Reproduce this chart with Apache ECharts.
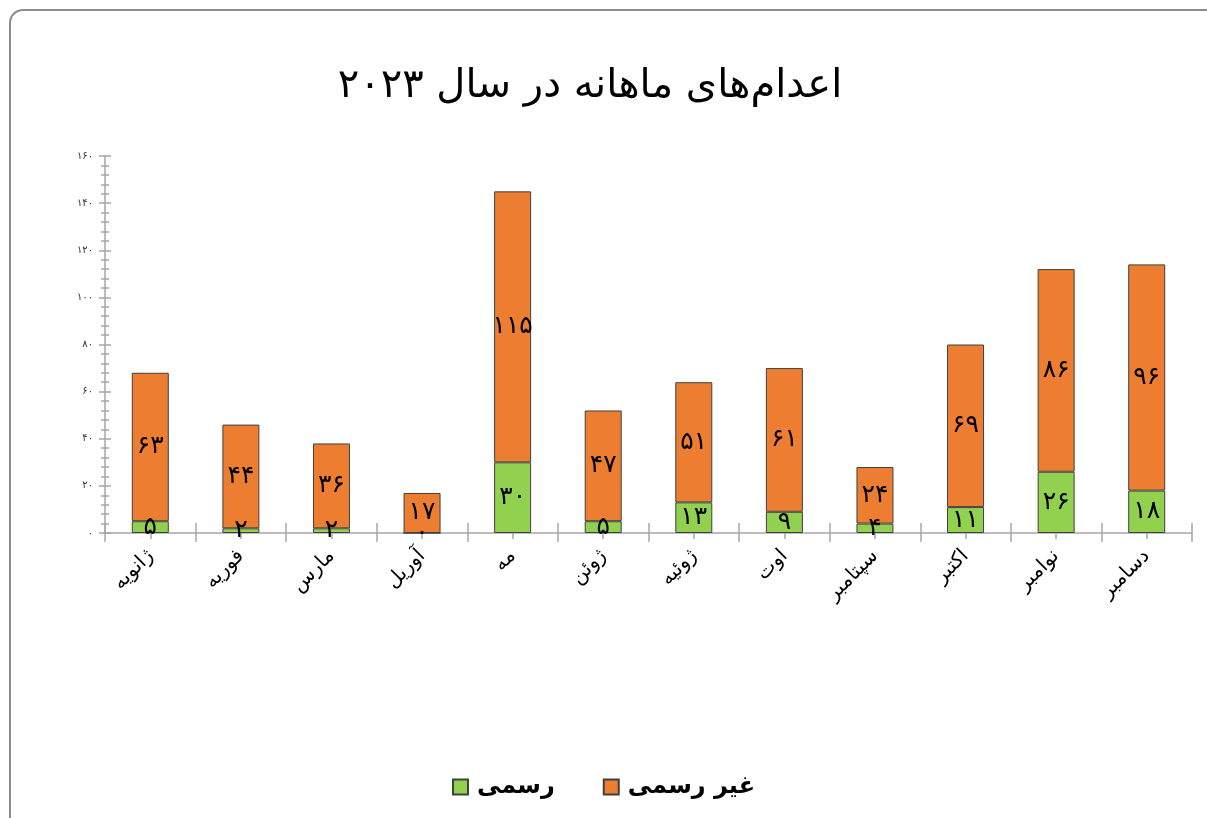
<!DOCTYPE html>
<html>
<head>
<meta charset="utf-8">
<script src="https://cdn.jsdelivr.net/npm/echarts@6/dist/echarts.min.js"></script>
<style>
  html, body { margin: 0; padding: 0; background: #fff; }
  #frame {
    position: absolute; left: 9px; top: 9px; width: 1240px; height: 860px;
    border-left: 2px solid #8c8c8c; border-top: 2px solid #8c8c8c;
    border-top-left-radius: 14px;
  }
  #main { position: absolute; left: 0; top: 0; width: 1207px; height: 818px; }
</style>
</head>
<body>
<div id="frame"></div>
<div id="main"></div>
<script>
// months (Persian)
var months = ['ژانویه', 'فوریه', 'مارس', 'آوریل', 'مه', 'ژوئن', 'ژوئیه', 'اوت', 'سپتامبر', 'اکتبر', 'نوامبر', 'دسامبر'];
// official executions
var official = [5, 2, 2, 0, 30, 5, 13, 9, 4, 11, 26, 18];
// unofficial executions
var unofficial = [63, 44, 36, 17, 115, 47, 51, 61, 24, 69, 86, 96];

var faFont = "'DejaVu Sans', 'Noto Sans', sans-serif";

function toFa(n) {
  var d = '۰۱۲۳۴۵۶۷۸۹';
  return String(n).replace(/[0-9]/g, function (c) { return d[+c]; });
}

var myChart = echarts.init(document.getElementById('main'), null, { renderer: 'canvas' });

var labelStyle = {
  show: true,
  position: 'inside',
  color: '#000',
  fontSize: 25,
  fontFamily: faFont,
  formatter: function (p) { return toFa(p.value); }
};

var tickColor = '#a6a6a6';

var option = {
  animation: false,
  title: {
    text: 'اعدام‌های ماهانه در سال ۲۰۲۳',
    left: 585,
    top: 62,
    textAlign: 'center',
    textStyle: { fontSize: 40, fontWeight: 'normal', color: '#000', fontFamily: faFont }
  },
  legend: {
    bottom: 14,
    left: 'center',
    itemWidth: 15,
    itemHeight: 15,
    itemGap: 48,
    icon: 'rect',
    textStyle: { fontSize: 24, fontWeight: 'bold', color: '#000', fontFamily: faFont, padding: [0, 0, 0, 4] },
    data: ['رسمی', 'غیر رسمی']
  },
  grid: { left: 105, right: 15, top: 156, bottom: 285, containLabel: false },
  xAxis: [{
    type: 'category',
    position: 'bottom',
    data: months,
    axisLine: { lineStyle: { color: tickColor, width: 1.5 } },
    axisTick: { show: true, alignWithLabel: false, length: 9, lineStyle: { color: tickColor, width: 1.5 } },
    axisLabel: {
      rotate: 45, margin: 20, color: '#000', fontSize: 20, fontFamily: faFont, interval: 0
    }
  }, {
    type: 'category',
    position: 'bottom',
    data: months,
    axisLine: { show: false },
    axisTick: { show: true, inside: true, alignWithLabel: false, length: 10, lineStyle: { color: tickColor, width: 1.5 } },
    axisLabel: { show: false }
  }, {
    type: 'category',
    position: 'bottom',
    data: months,
    axisLine: { show: false },
    axisTick: { show: true, alignWithLabel: true, length: 6, lineStyle: { color: tickColor, width: 1.5 } },
    axisLabel: { show: false }
  }],
  yAxis: [{
    type: 'value',
    position: 'left',
    min: 0, max: 160, interval: 20,
    splitLine: { show: false },
    axisLine: { show: true, lineStyle: { color: tickColor, width: 1.5 } },
    axisTick: { show: true, length: 6, lineStyle: { color: tickColor, width: 1.5 } },
    minorTick: { show: true, splitNumber: 5, length: 4, lineStyle: { color: tickColor, width: 1.5 } },
    axisLabel: {
      margin: 12, color: '#333', fontSize: 10, fontFamily: faFont,
      formatter: function (v) { return toFa(v); }
    }
  }, {
    type: 'value',
    position: 'left',
    min: 0, max: 160, interval: 20,
    splitLine: { show: false },
    axisLine: { show: false },
    axisTick: { show: true, inside: true, length: 6, lineStyle: { color: tickColor, width: 1.5 } },
    minorTick: { show: true, splitNumber: 5, length: 4, lineStyle: { color: tickColor, width: 1.5 } },
    axisLabel: { show: false }
  }],
  series: [{
    name: 'رسمی',
    type: 'bar',
    stack: 'total',
    barWidth: 37,
    data: official,
    itemStyle: { color: '#92d050', borderColor: '#404040', borderWidth: 1 },
    label: labelStyle
  }, {
    name: 'غیر رسمی',
    type: 'bar',
    stack: 'total',
    barWidth: 37,
    data: unofficial,
    itemStyle: { color: '#ed7d31', borderColor: '#404040', borderWidth: 1 },
    label: labelStyle
  }]
};

myChart.setOption(option);
</script>
</body>
</html>
